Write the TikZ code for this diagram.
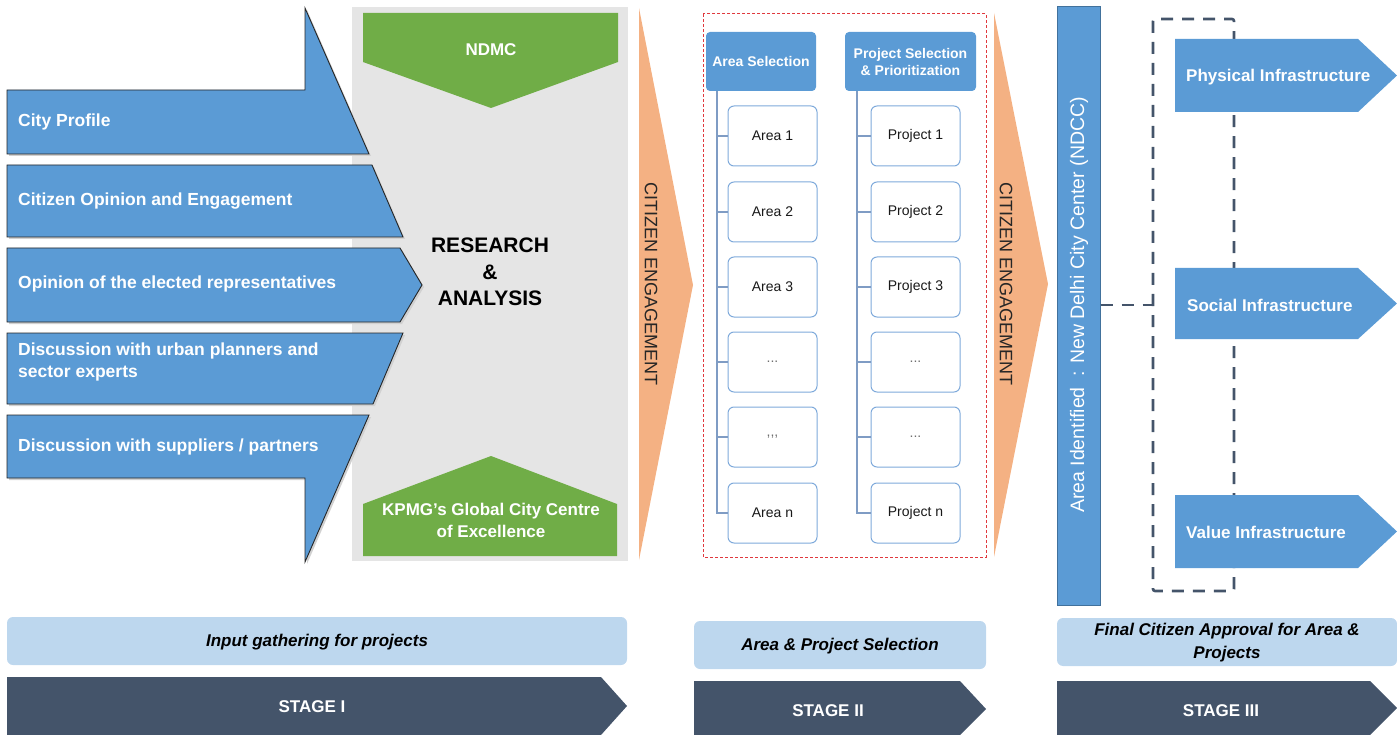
\documentclass[tikz,border=0pt]{standalone}
\usepackage{fontspec}
\setmainfont{Liberation Sans}
\usetikzlibrary{shadows}
\definecolor{blu}{HTML}{5B9BD5}
\definecolor{blud}{HTML}{41719C}
\definecolor{grn}{HTML}{70AD47}
\definecolor{org}{HTML}{F4B183}
\definecolor{gry}{HTML}{E5E5E5}
\definecolor{slate}{HTML}{44546A}
\definecolor{lblu}{HTML}{BDD7EE}
\definecolor{redd}{HTML}{E0393E}
\definecolor{boxb}{HTML}{7FAADB}
\definecolor{linec}{HTML}{7F9CC4}
\definecolor{dotc}{HTML}{6F6F6F}
\begin{document}
\begin{tikzpicture}[x=1pt,y=-1pt,
  inshape/.style={fill=blu,draw=black!85,line width=0.9pt,
    drop shadow={shadow xshift=2pt,shadow yshift=-2pt,fill=black!18,opacity=1}},
  intext/.style={anchor=west,text=white,font=\fontsize{17.5}{22}\selectfont\bfseries,align=left,inner sep=0pt},
  greentext/.style={text=white,font=\fontsize{17}{22}\selectfont\bfseries,align=center,inner sep=0pt},
  citz/.style={font=\fontsize{18}{20}\selectfont,text=black!85,inner sep=0pt},
  hdr/.style={fill=blu,rounded corners=4pt,text=white,font=\fontsize{14}{17}\selectfont\bfseries,align=center,inner sep=0pt},
  itembox/.style={draw=boxb,line width=1pt,fill=white,rounded corners=6pt,minimum width=89pt,minimum height=60pt,inner sep=0pt,font=\fontsize{14}{16}\selectfont,text=black!90},
  dotbox/.style={itembox,text=dotc},
  treeline/.style={draw=linec,line width=1.5pt},
  infra/.style={fill=blu},
  infratext/.style={anchor=west,text=white,font=\fontsize{17}{20}\selectfont\bfseries,inner sep=0pt},
  dashline/.style={draw=slate,line width=2.6pt,dash pattern=on 12pt off 9pt},
  lbar/.style={fill=lblu,rounded corners=6pt},
  lbartext/.style={font=\fontsize{17}{23}\selectfont\bfseries\itshape,text=black,align=center,inner sep=0pt},
  stagetext/.style={font=\fontsize{17}{20}\selectfont\bfseries,text=white,inner sep=0pt}
]
\useasboundingbox (0,0) rectangle (1397,735);

% ---------- Stage I ----------
\fill[gry] (352,7) rectangle (628,561);
\fill[grn] (363,13) -- (618,13) -- (618,62) -- (491,108) -- (363,62) -- cycle;
\node[greentext] (ndmc) at (491,50) {NDMC};
\fill[grn] (363,556) -- (363,504) -- (491,456) -- (617,504) -- (617,556) -- cycle;
\node[greentext] (kpmg) at (491,520) {KPMG’s Global City Centre\\of Excellence};
\node[font=\fontsize{21}{26.5}\selectfont\bfseries,align=center,inner sep=0pt] (ra) at (490,272) {RESEARCH\\\&\\ANALYSIS};

\path[inshape] (7,90) -- (305,90) -- (305,8) -- (369,154) -- (7,154) -- cycle;
\path[inshape] (7,165) -- (372,165) -- (403,237) -- (7,237) -- cycle;
\path[inshape] (7,248) -- (400,248) -- (422,285) -- (400,322) -- (7,322) -- cycle;
\path[inshape] (7,333) -- (403,333) -- (373,404) -- (7,404) -- cycle;
\path[inshape] (7,415) -- (369,415) -- (305,562) -- (305,478) -- (7,478) -- cycle;

\node[intext] (cp) at (18,122) {City Profile};
\node[intext] (co) at (18,201) {Citizen Opinion and Engagement};
\node[intext] (oe) at (18,284) {Opinion of the elected representatives};
\node[intext] (du) at (18,362) {Discussion with urban planners and\\sector experts};
\node[intext] (ds) at (18,447) {Discussion with suppliers / partners};

% citizen engagement 1
\fill[org] (639,8) -- (693,285) -- (639,560) -- cycle;
\node[citz,rotate=-90] (ce1) at (651,284) {CITIZEN ENGAGEMENT};

% ---------- Stage II ----------
\draw[redd,line width=1pt,dash pattern=on 3pt off 2pt] (703,14) rectangle (986,557);
\node[hdr,minimum width=110pt,minimum height=59pt] (hA) at (761,61.5) {Area Selection};
\node[hdr,minimum width=131pt,minimum height=59pt] (hP) at (910.5,61.5) {Project Selection\\\& Prioritization};

\node[itembox] (a1) at (772.5,136) {Area 1};
\node[itembox] (a2) at (772.5,212) {Area 2};
\node[itembox] (a3) at (772.5,287) {Area 3};
\node[dotbox]  (a4) at (772.5,362) {...};
\node[dotbox]  (a5) at (772.5,437) {{,}{,}{,}};
\node[itembox] (a6) at (772.5,513) {Area n};
\node[itembox] (p1) at (915.5,136) {Project 1};
\node[itembox] (p2) at (915.5,212) {Project 2};
\node[itembox] (p3) at (915.5,287) {Project 3};
\node[dotbox]  (p4) at (915.5,362) {...};
\node[dotbox]  (p5) at (915.5,437) {...};
\node[itembox] (p6) at (915.5,513) {Project n};

\coordinate (tA) at (717,91);
\coordinate (tP) at (857,91);
\draw[treeline] (tA) |- (a6.west);
\draw[treeline] (tP) |- (p6.west);
\foreach \n in {a1,a2,a3,a4,a5}{\draw[treeline] (tA |- \n.west) -- (\n.west);}
\foreach \n in {p1,p2,p3,p4,p5}{\draw[treeline] (tP |- \n.west) -- (\n.west);}

% citizen engagement 2
\fill[org] (994,13) -- (1048,284) -- (994,557) -- cycle;
\node[citz,rotate=-90] (ce2) at (1006,284) {CITIZEN ENGAGEMENT};

% ---------- Stage III ----------
\node[draw=blud,fill=blu,line width=1pt,minimum width=43pt,minimum height=598pt,inner sep=0pt] (ndcc) at (1078.5,306) {};
\node[rotate=90,text=white,font=\fontsize{19.5}{22}\selectfont,inner sep=0pt] (ndcct) at (1079,305) {Area Identified\ \ : New Delhi City Center (NDCC)};

\coordinate (dl) at (1153,305);
\draw[dashline] (ndcc.east |- dl) -- (dl);
\draw[dashline,rounded corners=2pt] (1153,19) rectangle (1234,591);

\fill[infra] (1175,39) -- (1358,39) -- (1397,75.5) -- (1358,112) -- (1175,112) -- cycle;
\fill[infra] (1175,268) -- (1358,268) -- (1397,303.5) -- (1358,339) -- (1175,339) -- cycle;
\fill[infra] (1175,495) -- (1358,495) -- (1397,531.5) -- (1358,568) -- (1175,568) -- cycle;
\node[infratext] (phy) at (1186,77) {Physical Infrastructure};
\node[infratext] (soc) at (1187,305) {Social Infrastructure};
\node[infratext] (val) at (1186,532) {Value Infrastructure};

% ---------- bottom bars ----------
\fill[lbar] (7,617) rectangle (627,665);
\node[lbartext] (l1) at (317,642) {Input gathering for projects};
\fill[lbar] (694,621) rectangle (986,669);
\node[lbartext] (l2) at (840,646) {Area \& Project Selection};
\fill[lbar] (1057,618) rectangle (1397,666);
\node[lbartext] (l3) at (1227,643) {Final Citizen Approval for Area \&\\Projects};

\fill[slate] (7,677) -- (601,677) -- (627,706) -- (601,735) -- (7,735) -- cycle;
\node[stagetext] (s1) at (312,707) {STAGE I};
\fill[slate] (694,681) -- (960,681) -- (986,709) -- (960,735) -- (694,735) -- cycle;
\node[stagetext] (s2) at (828,711) {STAGE II};
\fill[slate] (1057,681) -- (1370,681) -- (1397,708) -- (1370,735) -- (1057,735) -- cycle;
\node[stagetext] (s3) at (1221,711) {STAGE III};
\end{tikzpicture}
\end{document}
